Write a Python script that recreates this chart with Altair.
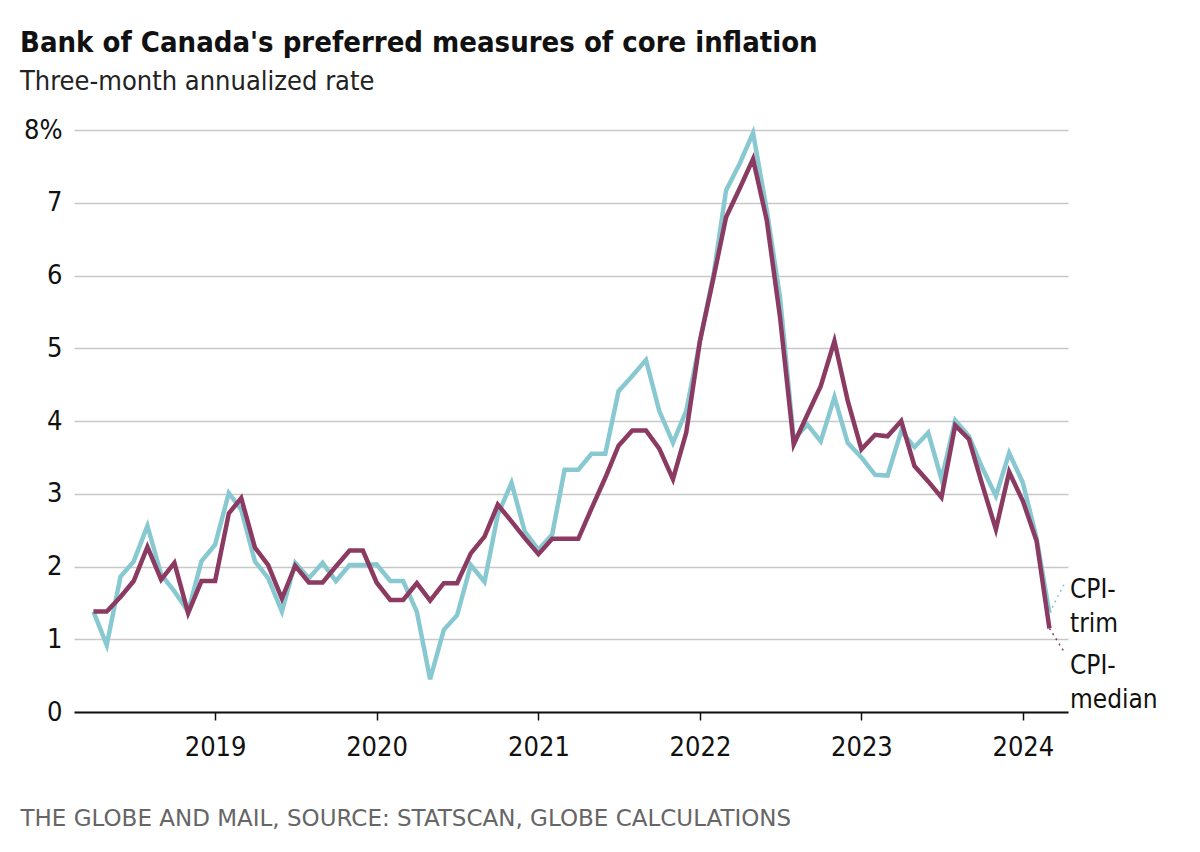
import altair as alt
import pandas as pd

FONT = "DejaVu Sans Condensed, Liberation Sans Narrow, Open Sans, sans-serif"
FOOT_FONT = "DejaVu Sans, Open Sans, sans-serif"

months = [d.strftime("%Y-%m-%d") for d in pd.date_range("2018-04-01", periods=72, freq="MS")]

cpi_trim = [
    1.38, 0.92, 1.86, 2.07, 2.56, 1.89, 1.66, 1.38, 2.07, 2.30, 3.01, 2.78,
    2.07, 1.84, 1.38, 2.05, 1.84, 2.05, 1.80, 2.02, 2.02, 2.03, 1.80, 1.80,
    1.38, 0.45, 1.13, 1.33, 2.02, 1.79, 2.71, 3.15, 2.48, 2.23, 2.44, 3.33,
    3.33, 3.55, 3.55, 4.41, 4.62, 4.84, 4.14, 3.70, 4.14, 5.10, 6.02, 7.17,
    7.54, 7.96, 6.90, 5.70, 3.75, 3.95, 3.72, 4.33, 3.70, 3.50, 3.26, 3.25,
    3.86, 3.64, 3.84, 3.20, 4.01, 3.79, 3.36, 2.97, 3.56, 3.15, 2.39, 1.36,
]
cpi_median = [
    1.38, 1.38, 1.58, 1.80, 2.27, 1.82, 2.05, 1.36, 1.80, 1.80, 2.73, 2.94,
    2.26, 2.02, 1.56, 2.01, 1.78, 1.78, 2.00, 2.22, 2.22, 1.78, 1.54, 1.54,
    1.77, 1.53, 1.77, 1.77, 2.18, 2.41, 2.85, 2.62, 2.39, 2.17, 2.38, 2.38,
    2.38, 2.80, 3.22, 3.66, 3.87, 3.87, 3.62, 3.20, 3.84, 5.10, 5.98, 6.80,
    7.20, 7.60, 6.76, 5.43, 3.68, 4.09, 4.48, 5.10, 4.28, 3.61, 3.81, 3.79,
    4.00, 3.38, 3.17, 2.95, 3.94, 3.75, 3.13, 2.51, 3.30, 2.90, 2.35, 1.15,
]

series_names = ["CPI-trim", "CPI-median"]
series_colors = ["#88c9d1", "#8b3a62"]

# end-of-line labels
label_texts = ["CPI-\ntrim", "CPI-\nmedian"]
label_dates = ["2024-04-12", "2024-04-12"]
label_values = [1.85, 0.81]

# dotted connectors from the last point to the labels
conn_series = ["CPI-trim", "CPI-trim", "CPI-median", "CPI-median"]
conn_dates = ["2024-03-01", "2024-04-06", "2024-03-01", "2024-04-06"]
conn_values = [1.36, 1.79, 1.15, 0.80]

year_ticks = [2019, 2020, 2021, 2022, 2023, 2024]
y_ticks = [0, 1, 2, 3, 4, 5, 6, 7, 8]

df = pd.DataFrame({
    "date": months * 2,
    "value": cpi_trim + cpi_median,
    "series": [series_names[0]] * len(months) + [series_names[1]] * len(months),
})
df_lab = pd.DataFrame({"date": label_dates, "value": label_values, "text": label_texts})
df_conn = pd.DataFrame({"date": conn_dates, "value": conn_values, "series": conn_series})

x_scale = alt.Scale(
    type="utc",
    domain=[alt.DateTime(year=2018, month=2, date=16, utc=True),
            alt.DateTime(year=2024, month=4, date=12, utc=True)],
)
y_scale = alt.Scale(domain=[0, 8], nice=False)
color_scale = alt.Scale(domain=series_names, range=series_colors)

x_axis = alt.Axis(
    values=[alt.DateTime(year=y, month=1, date=1, utc=True) for y in year_ticks],
    format="%Y",
    grid=False,
    domain=True, domainColor="#111111", domainWidth=2,
    ticks=True, tickColor="#111111", tickSize=8, tickWidth=1.5,
    labelFont=FONT, labelFontSize=27, labelColor="#111111", labelPadding=14,
    title="THE GLOBE AND MAIL, SOURCE: STATSCAN, GLOBE CALCULATIONS",
    titleFont=FOOT_FONT, titleFontSize=23, titleFontWeight="normal", titleColor="#666666",
    titleAnchor="start", titleAlign="left", titleBaseline="middle",
    titleX=-54, titleY=106,
)
y_axis = alt.Axis(
    values=y_ticks,
    format="d",
    labelExpr="datum.value == 8 ? '8%' : datum.label",
    grid=True, gridColor="#c8c8c8", gridWidth=1.5,
    domain=False, ticks=False,
    labelFont=FONT, labelFontSize=27, labelColor="#111111", labelPadding=12,
    title=None,
)

trim_line = alt.Chart(df[df.series == "CPI-trim"]).mark_line(
    strokeWidth=4.5, color=series_colors[0]
).encode(
    x=alt.X("date:T", scale=x_scale, axis=x_axis),
    y=alt.Y("value:Q", scale=y_scale, axis=y_axis),
)
median_line = alt.Chart(df[df.series == "CPI-median"]).mark_line(
    strokeWidth=4.5, color=series_colors[1]
).encode(
    x=alt.X("date:T", scale=x_scale),
    y=alt.Y("value:Q", scale=y_scale),
)

connectors = alt.Chart(df_conn).mark_line(strokeWidth=1.5, strokeDash=[2, 4]).encode(
    x=alt.X("date:T", scale=x_scale),
    y=alt.Y("value:Q", scale=y_scale),
    color=alt.Color("series:N", scale=color_scale, legend=None),
    detail="series:N",
)

labels = alt.Chart(df_lab).mark_text(
    align="left", baseline="top", dx=2, lineBreak="\n", lineHeight=34,
    font=FONT, fontSize=26, color="#111111",
).encode(
    x=alt.X("date:T", scale=x_scale),
    y=alt.Y("value:Q", scale=y_scale),
    text="text:N",
)

chart = alt.layer(trim_line, median_line, connectors, labels).properties(
    width=994,
    height=582,
    background="white",
    autosize=alt.AutoSizeParams(type="none"),
    padding={"left": 66, "top": 122, "right": 124, "bottom": 132},
    title=alt.TitleParams(
        text="Bank of Canada's preferred measures of core inflation",
        subtitle="Three-month annualized rate",
        anchor="start", frame="group", dx=-54, offset=21,
        font=FONT, fontSize=29, fontWeight="bold", color="#111111",
        subtitleFont=FONT, subtitleFontSize=27, subtitleColor="#222222",
        subtitlePadding=11,
    ),
).configure_view(stroke="transparent", strokeWidth=0)

chart.save("out.html", embed_options={"renderer": "svg", "actions": False})
